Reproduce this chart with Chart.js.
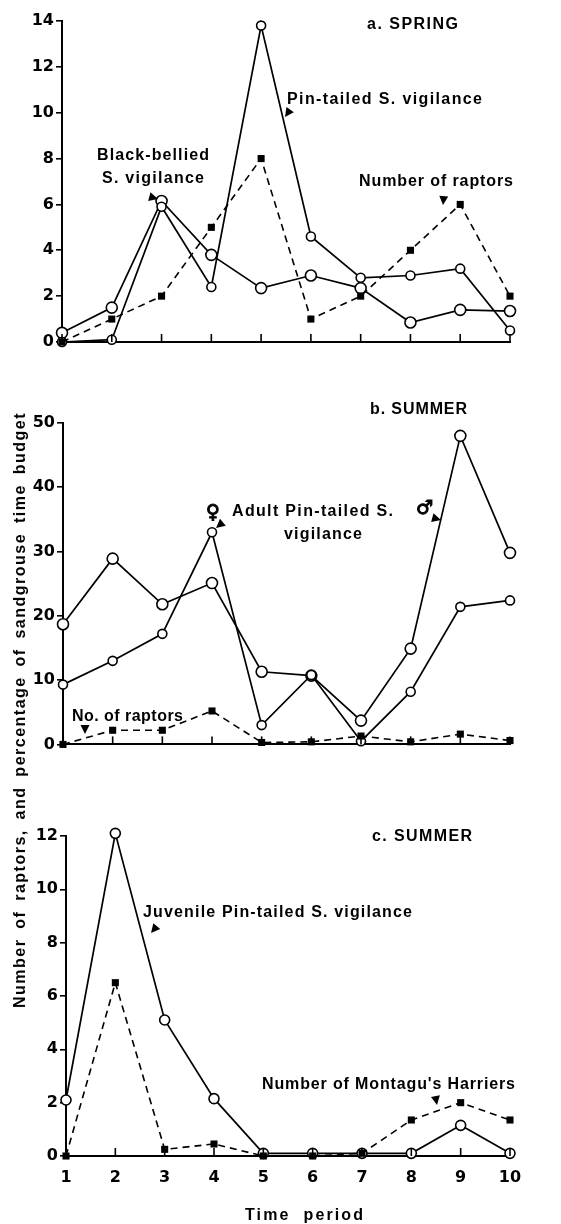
<!DOCTYPE html>
<html>
<head>
<meta charset="utf-8">
<script src="https://cdn.jsdelivr.net/npm/chart.js@4.4.0/dist/chart.umd.min.js"></script>
<style>
  body { margin: 0; background: #fff; width: 561px; height: 1224px; overflow: hidden; position: relative; }
  canvas { position: absolute; left: 0; }
  #ytitle { position: absolute; font: bold 16px "Liberation Sans"; white-space: nowrap; letter-spacing: 1.5px; color: #000; }
</style>
</head>
<body>
<canvas id="springChart" width="561" height="356" style="top:0px"></canvas>
<canvas id="summerChart" width="561" height="390" style="top:366px"></canvas>
<canvas id="juvChart" width="561" height="454" style="top:770px"></canvas>
<div id="ytitle"></div>
<script>
const periods = [1, 2, 3, 4, 5, 6, 7, 8, 9, 10];

// a. spring
const springPinTailed = [0, 0.1, 5.9, 2.4, 13.8, 4.6, 2.8, 2.9, 3.2, 0.5];
const springBlackBellied = [0.4, 1.5, 6.15, 3.8, 2.35, 2.9, 2.35, 0.85, 1.4, 1.35];
const springRaptors = [0, 1, 2, 5, 8, 1, 2, 4, 6, 2];

// b. summer, adults
const summerFemale = [9.3, 13, 17.2, 33, 3, 10.8, 0.5, 8.2, 21.4, 22.4];
const summerMale = [18.7, 28.9, 21.8, 25.1, 11.3, 10.7, 3.7, 14.9, 48, 29.8];
const summerRaptors = [0, 2.2, 2.2, 5.2, 0.3, 0.4, 1.3, 0.4, 1.6, 0.6];

// c. summer, juveniles
const juvenilePinTailed = [2.1, 12.1, 5.1, 2.15, 0.1, 0.1, 0.1, 0.1, 1.15, 0.1];
const montagusHarriers = [0, 6.5, 0.25, 0.45, 0, 0, 0.1, 1.35, 2.0, 1.35];

const yTitle = "Number of raptors, and percentage of sandgrouse time budget";

Chart.defaults.font.family = '"DejaVu Sans"';
Chart.defaults.font.weight = 'bold';
Chart.defaults.font.size = 16;
Chart.defaults.color = '#000';

function circles(values, r) {
    return {
        data: values.map((v, i) => ({ x: periods[i], y: v })),
        borderColor: '#000',
        borderWidth: 1.7,
        pointStyle: 'circle',
        pointRadius: r,
        pointBackgroundColor: '#fff',
        pointBorderColor: '#000',
        pointBorderWidth: 1.6,
        clip: false,
    };
}

function squares(values) {
    return {
        data: values.map((v, i) => ({ x: periods[i], y: v })),
        borderColor: '#000',
        borderWidth: 1.6,
        borderDash: [7, 5],
        pointStyle: 'rect',
        pointRadius: 5,
        pointBackgroundColor: '#000',
        pointBorderColor: '#000',
        pointBorderWidth: 0,
        clip: false,
    };
}

// small tick marks pointing up into the plot
const innerTicks = {
    id: 'innerTicks',
    afterDatasetsDraw(chart) {
        const xs = chart.scales.x, ctx = chart.ctx, b = chart.chartArea.bottom;
        ctx.save();
        ctx.strokeStyle = '#000';
        ctx.lineWidth = 1.6;
        xs.ticks.forEach(t => {
            const px = xs.getPixelForValue(t.value);
            ctx.beginPath();
            ctx.moveTo(px, b);
            ctx.lineTo(px, b - 8);
            ctx.stroke();
        });
        ctx.restore();
    }
};

// text labels and little arrow heads
const notes = {
    id: 'notes',
    afterDraw(chart, args, opts) {
        const ctx = chart.ctx, off = opts.offset || 0;
        (opts.items || []).forEach(n => {
            ctx.save();
            ctx.font = 'bold ' + (n.size || 16) + 'px ' + (n.family || '"Liberation Sans"');
            ctx.fillStyle = '#000';
            ctx.strokeStyle = '#000';
            ctx.textBaseline = 'middle';
            ctx.textAlign = 'left';
            ctx.letterSpacing = '0px';
            if (n.w) {
                const m = ctx.measureText(n.text).width;
                const k = [...n.text].length - 1;
                const ls = k > 0 ? Math.max(-1, (n.w - m) / k) : 0;
                ctx.letterSpacing = ls + 'px';
            }
            ctx.fillText(n.text, n.x, n.y - off);
            if (n.stroke) {
                ctx.lineWidth = n.stroke;
                ctx.strokeText(n.text, n.x, n.y - off);
            }
            ctx.restore();
        });
        (opts.arrows || []).forEach(a => {
            ctx.save();
            ctx.fillStyle = '#000';
            ctx.translate(a.x, a.y - off);
            ctx.rotate(a.a * Math.PI / 180);
            ctx.beginPath();
            ctx.moveTo(0, 0);
            ctx.lineTo(-9, -4.5);
            ctx.lineTo(-9, 4.5);
            ctx.closePath();
            ctx.fill();
            ctx.restore();
        });
    }
};

function makeChart(id, datasets, o) {
    return new Chart(document.getElementById(id), {
        type: 'line',
        data: { datasets: datasets },
        plugins: [innerTicks, notes],
        options: {
            responsive: false,
            animation: false,
            layout: { padding: { top: o.top, right: 51, left: 0, bottom: 0 } },
            scales: {
                x: {
                    type: 'linear',
                    min: 1,
                    max: 10,
                    ticks: { stepSize: 1, display: o.xLabels, padding: 4 },
                    grid: { display: false },
                    border: { display: true, color: '#000', width: 2 },
                    afterFit: s => { s.height = o.xh; },
                },
                y: {
                    min: 0,
                    max: o.max,
                    ticks: { stepSize: o.step, padding: 2 },
                    grid: { drawOnChartArea: false, drawTicks: true, tickLength: 6, color: '#000', lineWidth: 1.6 },
                    border: { display: true, color: '#000', width: 2 },
                    afterFit: s => { s.width = o.yw; },
                },
            },
            plugins: {
                legend: { display: false },
                tooltip: { enabled: false },
                notes: { offset: o.offset, items: o.items, arrows: o.arrows },
            },
        },
    });
}

makeChart('springChart', [
    squares(springRaptors),
    circles(springPinTailed, 4.5),
    circles(springBlackBellied, 5.5),
], {
    top: 21, xh: 14, yw: 62, max: 14, step: 2, xLabels: false, offset: 0,
    items: [
        { text: 'a. SPRING', x: 367, y: 25, w: 91 },
        { text: 'Pin-tailed S. vigilance', x: 287, y: 100, w: 195 },
        { text: 'Black-bellied', x: 97, y: 156, w: 112 },
        { text: 'S. vigilance', x: 102, y: 179, w: 102 },
        { text: 'Number of raptors', x: 359, y: 182, w: 154 },
    ],
    arrows: [
        { x: 285, y: 117, a: 125 },
        { x: 158, y: 199, a: 15 },
        { x: 443, y: 205, a: 95 },
    ],
});

makeChart('summerChart', [
    squares(summerRaptors),
    circles(summerFemale, 4.5),
    circles(summerMale, 5.5),
], {
    top: 57, xh: 10, yw: 63, max: 50, step: 10, xLabels: false, offset: 366,
    items: [
        { text: 'b. SUMMER', x: 370, y: 410, w: 97 },
        { text: '\u2640', x: 206, y: 513, size: 19, family: '"DejaVu Sans"', stroke: 1 },
        { text: 'Adult Pin-tailed S.', x: 232, y: 512, w: 161 },
        { text: 'vigilance', x: 284, y: 535, w: 78 },
        { text: '\u2642', x: 416, y: 509, size: 19, family: '"DejaVu Sans"', stroke: 1 },
        { text: 'No. of raptors', x: 72, y: 717, w: 111 },
    ],
    arrows: [
        { x: 216, y: 528, a: 140 },
        { x: 441, y: 520, a: 15 },
        { x: 85, y: 734, a: 90 },
    ],
});

makeChart('juvChart', [
    squares(montagusHarriers),
    circles(juvenilePinTailed, 5),
], {
    top: 66, xh: 68, yw: 66, max: 12, step: 2, xLabels: true, offset: 770,
    items: [
        { text: 'c. SUMMER', x: 372, y: 837, w: 100 },
        { text: 'Juvenile Pin-tailed S. vigilance', x: 143, y: 913, w: 269 },
        { text: "Number of Montagu's Harriers", x: 262, y: 1085, w: 253 },
        { text: 'Time  period', x: 245, y: 1216, w: 118 },
    ],
    arrows: [
        { x: 151, y: 933, a: 130 },
        { x: 437, y: 1105, a: 80 },
    ],
});

// rotated y axis title shared by all three panels
const yt = document.getElementById('ytitle');
yt.textContent = yTitle;
const w0 = yt.offsetWidth;
const gaps = yTitle.split(' ').length - 1;
yt.style.wordSpacing = Math.max(0, (596 - w0) / gaps) + 'px';
const tw = yt.offsetWidth, th = yt.offsetHeight;
yt.style.left = (20 - tw / 2) + 'px';
yt.style.top = (710 - th / 2) + 'px';
yt.style.transform = 'rotate(-90deg)';
</script>
</body>
</html>
